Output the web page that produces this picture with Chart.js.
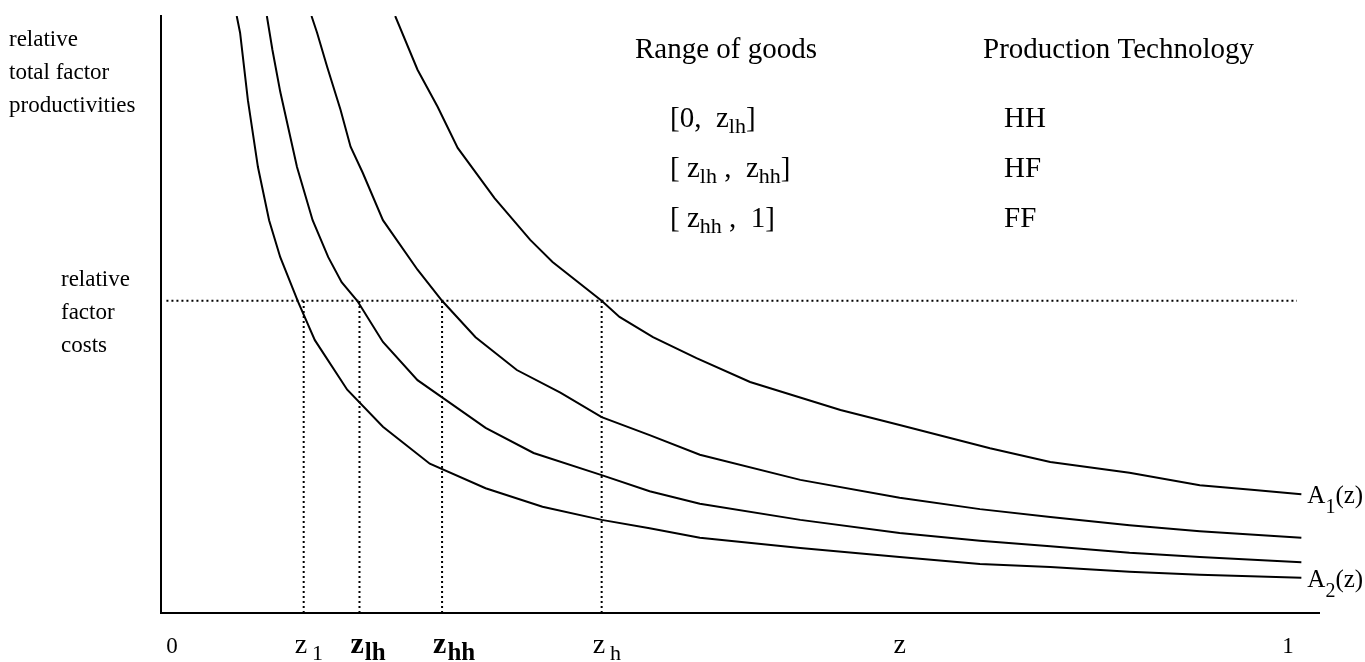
<!DOCTYPE html>
<html>
<head>
<meta charset="utf-8">
<script src="https://cdn.jsdelivr.net/npm/chart.js@4.4.1/dist/chart.umd.min.js"></script>
<style>
  html,body{margin:0;padding:0;background:#fff;}
  #wrap{width:1365px;height:662px;}
</style>
</head>
<body>
<div id="wrap"><canvas id="chart" width="1365" height="662"></canvas></div>
<script>
// ===== DATA =====
// x = good index z (0..1), y = relative total factor productivity (0..10)

// A1(z) - outermost curve
const a1Z = [0.200, 0.220, 0.238, 0.256, 0.289, 0.321, 0.341, 0.385, 0.401, 0.431, 0.470, 0.518, 0.599, 0.652, 0.733, 0.787, 0.858, 0.921, 0.970, 1.012];
const a1Y = [10.0, 9.10, 8.48, 7.79, 6.95, 6.25, 5.88, 5.23, 4.96, 4.62, 4.27, 3.87, 3.40, 3.15, 2.76, 2.53, 2.35, 2.14, 2.06, 1.99];

// second curve from the top
const midHZ = [0.125, 0.130, 0.139, 0.151, 0.160, 0.171, 0.189, 0.220, 0.242, 0.272, 0.309, 0.348, 0.385, 0.428, 0.473, 0.563, 0.652, 0.724, 0.787, 0.858, 0.921, 1.012];
const midHY = [10.0, 9.72, 9.15, 8.43, 7.81, 7.37, 6.58, 5.75, 5.23, 4.62, 4.07, 3.69, 3.28, 2.98, 2.65, 2.23, 1.93, 1.74, 1.61, 1.47, 1.37, 1.26];

// third curve from the top
const midLZ = [0.085, 0.090, 0.097, 0.112, 0.126, 0.140, 0.152, 0.166, 0.189, 0.220, 0.243, 0.281, 0.324, 0.385, 0.428, 0.473, 0.563, 0.652, 0.724, 0.787, 0.858, 0.921, 1.012];
const midLY = [10.0, 9.43, 8.73, 7.47, 6.58, 5.96, 5.54, 5.23, 4.54, 3.90, 3.60, 3.10, 2.68, 2.31, 2.04, 1.83, 1.56, 1.34, 1.21, 1.12, 1.01, 0.94, 0.85];

// A2(z) - innermost curve
const a2Z = [0.058, 0.061, 0.068, 0.077, 0.087, 0.097, 0.113, 0.128, 0.157, 0.189, 0.231, 0.281, 0.332, 0.385, 0.428, 0.473, 0.563, 0.652, 0.724, 0.787, 0.858, 0.921, 1.012];
const a2Y = [10.0, 9.72, 8.59, 7.47, 6.58, 5.96, 5.21, 4.57, 3.74, 3.12, 2.50, 2.09, 1.78, 1.56, 1.42, 1.26, 1.09, 0.94, 0.82, 0.77, 0.69, 0.64, 0.59];

// relative factor costs and the cut-off goods z_1, z_lh, z_hh, z_h
const factorCost = 5.23;
const zCuts = [0.118, 0.168, 0.242, 0.385];

// x axis tick labels
const tickValues = [0, 0.118, 0.168, 0.242, 0.385, 0.652, 1];
const tickLabels = ["0", "z_1", "z_lh", "z_hh", "z_h", "z", "1"];

// curve labels
const curveLabels = ["A_1(z)", "A_2(z)"];

// table in the upper right
const tableHead = ["Range of goods", "Production Technology"];
const tableRanges = ["[0,  z_lh]", "[ z_lh ,  z_hh]", "[ z_hh ,  1]"];
const tableTech = ["HH", "HF", "FF"];

// axis descriptions
const yTitle = ["relative", "total factor", "productivities"];
const costTitle = ["relative", "factor", "costs"];

// ===== HELPERS =====
const SERIF = "'Liberation Serif', 'Times New Roman', serif";

const pts = (xs, ys) => xs.map((x, i) => ({x, y: ys[i]}));

// "z_lh" -> [["z",false],["lh",true]]
function runsOf(str){
  const out = [];
  str.split(/(_[a-z0-9]+)/).forEach(p => {
    if (!p) return;
    if (p[0] === "_") out.push([p.slice(1), true]);
    else out.push([p, false]);
  });
  return out;
}

function drawRich(ctx, str, x, y, o){
  const runs = runsOf(str);
  const w8 = o.bold ? "bold " : "";
  const fMain = w8 + o.size + "px " + SERIF;
  const fSub = w8 + (o.subSize || o.size) + "px " + SERIF;
  const gap = o.subGap || 0;
  let width = 0;
  runs.forEach(r => {
    ctx.font = r[1] ? fSub : fMain;
    width += ctx.measureText(r[0]).width + (r[1] ? gap : 0);
  });
  let cx = o.align === "center" ? x - width / 2 : x;
  runs.forEach(r => {
    ctx.font = r[1] ? fSub : fMain;
    if (r[1]) cx += gap;
    ctx.fillText(r[0], cx, y + (r[1] ? (o.subDy || 0) : 0));
    cx += ctx.measureText(r[0]).width;
  });
}

// ===== TEXT PLUGIN =====
const textPlugin = {
  id: "figureText",
  afterDraw(chart){
    const ctx = chart.ctx;
    const xs = chart.scales.x;
    const ys = chart.scales.y;
    ctx.save();
    ctx.fillStyle = "#000";
    ctx.textBaseline = "alphabetic";
    ctx.textAlign = "left";

    // axis tick labels
    const boldTicks = ["z_lh", "z_hh"];
    tickLabels.forEach((lab, i) => {
      const px = xs.getPixelForValue(tickValues[i]);
      const base = chart.chartArea.bottom + 40;
      if (lab.indexOf("_") < 0) {
        drawRich(ctx, lab, px, base, {size: lab === "z" ? 28 : 23, align: "center"});
      } else {
        const bold = boldTicks.includes(lab);
        drawRich(ctx, lab, px - 9, base, {
          size: bold ? 30 : 28, subSize: bold ? 25 : 22,
          subDy: 7, subGap: bold ? 1 : 5, bold
        });
      }
    });

    // axis descriptions on the left
    yTitle.forEach((t, i) => drawRich(ctx, t, 9, 46 + i * 33, {size: 23}));
    const costBase = ys.getPixelForValue(factorCost) - 15;
    costTitle.forEach((t, i) => drawRich(ctx, t, 61, costBase + i * 33, {size: 23}));

    // table
    drawRich(ctx, tableHead[0], 635, 58, {size: 29});
    drawRich(ctx, tableHead[1], 983, 58, {size: 29});
    tableRanges.forEach((t, i) => {
      drawRich(ctx, t, 670, 127 + i * 50, {size: 29, subSize: 22, subDy: 6});
      drawRich(ctx, tableTech[i], 1004, 127 + i * 50, {size: 29});
    });

    // curve labels at the right end of A1 and A2
    [0, 3].forEach((di, k) => {
      const d = chart.data.datasets[di].data;
      const last = d[d.length - 1];
      const px = xs.getPixelForValue(last.x) + 6;
      const py = ys.getPixelForValue(last.y) + 9;
      drawRich(ctx, curveLabels[k], px, py, {size: 25, subSize: 20, subDy: 10});
    });

    ctx.restore();
  }
};

// ===== CHART =====
const curve = (data) => ({
  data,
  borderColor: "#000",
  borderWidth: 2,
  pointRadius: 0,
  tension: 0,
  fill: false
});

const dotted = (data) => ({
  data,
  borderColor: "#000",
  borderWidth: 2,
  borderDash: [2, 3],
  pointRadius: 0,
  tension: 0,
  fill: false
});

const datasets = [
  curve(pts(a1Z, a1Y)),
  curve(pts(midHZ, midHY)),
  curve(pts(midLZ, midLY)),
  curve(pts(a2Z, a2Y)),
  dotted([{x: -0.005, y: factorCost}, {x: 1.008, y: factorCost}]),
  ...zCuts.map(z => dotted([{x: z, y: 0}, {x: z, y: factorCost}]))
];

new Chart(document.getElementById("chart"), {
  type: "line",
  data: {datasets},
  options: {
    responsive: false,
    animation: false,
    layout: {padding: {left: 161, right: 46, top: 16, bottom: 49}},
    plugins: {
      legend: {display: false},
      tooltip: {enabled: false}
    },
    scales: {
      x: {
        type: "linear",
        min: -0.00986,
        max: 1.0278,
        grid: {display: false, drawTicks: false},
        ticks: {display: false},
        border: {display: true, color: "#000", width: 2}
      },
      y: {
        type: "linear",
        min: 0,
        max: 10,
        grid: {display: false, drawTicks: false},
        ticks: {display: false},
        border: {display: true, color: "#000", width: 2}
      }
    }
  },
  plugins: [textPlugin]
});
</script>
</body>
</html>
